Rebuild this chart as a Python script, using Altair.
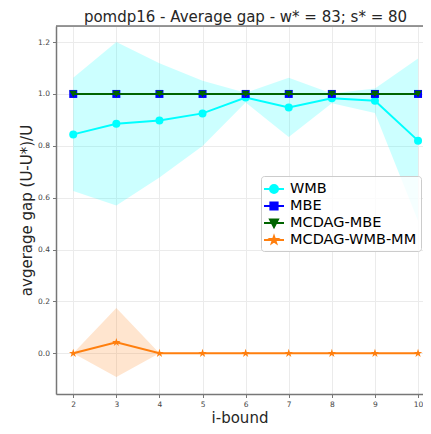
import altair as alt
import pandas as pd

# ---- data ----
I_BOUND = [2, 3, 4, 5, 6, 7, 8, 9, 10]
WMB_MEAN = [0.844, 0.885, 0.898, 0.925, 0.986, 0.948, 0.983, 0.974, 0.820]
WMB_LOW = [0.626, 0.570, 0.678, 0.799, 0.967, 0.834, 0.964, 0.927, 0.510]
WMB_HIGH = [1.062, 1.200, 1.118, 1.051, 1.005, 1.062, 1.002, 1.021, 1.137]
MBE_MEAN = [1.0, 1.0, 1.0, 1.0, 1.0, 1.0, 1.0, 1.0, 1.0]
MCDAG_MBE_MEAN = [1.0, 1.0, 1.0, 1.0, 1.0, 1.0, 1.0, 1.0, 1.0]
MM_MEAN = [0.0, 0.042, 0.0, 0.0, 0.0, 0.0, 0.0, 0.0, 0.0]
MM_LOW = [0.0, -0.091, 0.0, 0.0, 0.0, 0.0, 0.0, 0.0, 0.0]
MM_HIGH = [0.0, 0.175, 0.0, 0.0, 0.0, 0.0, 0.0, 0.0, 0.0]

SERIES = ["WMB", "MBE", "MCDAG-MBE", "MCDAG-WMB-MM"]
COLORS = ["#00ffff", "#0000ff", "#006400", "#ff7f0e"]
X_TICKS = [2, 3, 4, 5, 6, 7, 8, 9, 10]
Y_TICKS = [0.0, 0.2, 0.4, 0.6, 0.8, 1.0, 1.2]
TITLE = "pomdp16 - Average gap - w* = 83; s* = 80"
X_TITLE = "i-bound"
Y_TITLE = "avgerage gap (U-U*)/U"

df = pd.DataFrame({
    "i": I_BOUND,
    "wmb": WMB_MEAN, "wmb_lo": WMB_LOW, "wmb_hi": WMB_HIGH,
    "mbe": MBE_MEAN, "mcdag": MCDAG_MBE_MEAN,
    "mm": MM_MEAN, "mm_lo": MM_LOW, "mm_hi": MM_HIGH,
})
legend_df = pd.DataFrame({"s": SERIES, "i": [I_BOUND[0]] * 4, "v": [1.0] * 4})


def star_path(s):
    pts = [(0, -1), (0.2245, -0.309), (0.951, -0.309), (0.363, 0.118), (0.588, 0.809),
           (0, 0.382), (-0.588, 0.809), (-0.363, 0.118), (-0.951, -0.309), (-0.2245, -0.309)]
    return "M" + "L".join(f"{x*s:.3f},{y*s:.3f}" for x, y in pts) + "Z"


STUB = "M-1.25,0L1.25,0"
LEGEND_SHAPES = [
    STUB + "M0.5,0A0.5,0.5,0,1,1,-0.5,0A0.5,0.5,0,1,1,0.5,0Z",
    STUB + "M-0.45,-0.45L0.45,-0.45L0.45,0.45L-0.45,0.45Z",
    STUB + "M-0.5,-0.45L0.5,-0.45L0,0.5Z",
    STUB + star_path(0.45),
]

# layout (svg must stay within the 431x434 window minus the 8px page margin)
PAD_L, PAD_T, PAD_B = 48, 18, 32
W, H = 367, 368
X_MIN, X_MAX = 1.6, 1.6 + W / 43.1
Y_MIN, Y_MAX = -0.157, 1.262
XS = alt.Scale(domain=[X_MIN, X_MAX], nice=False, zero=False)
YS = alt.Scale(domain=[Y_MIN, Y_MAX], nice=False, zero=False)
SPINE = "#777777"

AX_COMMON = dict(
    grid=True, gridColor="#ebebeb", gridWidth=1,
    domainColor=SPINE, domainWidth=1.5,
    tickColor=SPINE, tickSize=3.5, tickWidth=1,
    labelFontSize=7.5, labelColor="#444444", labelFont="DejaVu Sans",
    titleFontSize=15, titleFont="DejaVu Sans", titleFontWeight="normal",
    titleColor="#262626",
)
XAX = alt.Axis(values=X_TICKS, format="d", labelPadding=3, title=X_TITLE,
               titleBaseline="alphabetic", titleY=28, **AX_COMMON)
YAX = alt.Axis(values=Y_TICKS, format=".1f", labelPadding=3, title=Y_TITLE,
               titleX=-30, titleY=H / 2, titleBaseline="middle", **AX_COMMON)


def xenc():
    return alt.X("i:Q", scale=XS, axis=XAX)


def yenc(field):
    return alt.Y(f"{field}:Q", scale=YS, axis=YAX)


base = alt.Chart(df)

wmb_band = base.mark_area(color=COLORS[0], opacity=0.2).encode(
    x=xenc(), y=yenc("wmb_lo"), y2="wmb_hi:Q")
mm_band = base.mark_area(color=COLORS[3], opacity=0.2).encode(
    x=xenc(), y=yenc("mm_lo"), y2="mm_hi:Q")

wmb_line = base.mark_line(color=COLORS[0], strokeWidth=2).encode(x=xenc(), y=yenc("wmb"))
wmb_pts = base.mark_point(filled=True, shape="circle", size=64, color=COLORS[0],
                          opacity=1).encode(x=xenc(), y=yenc("wmb"))
mbe_line = base.mark_line(color=COLORS[1], strokeWidth=2).encode(x=xenc(), y=yenc("mbe"))
mbe_pts = base.mark_point(filled=True, shape="square", size=64, color=COLORS[1],
                          opacity=1).encode(x=xenc(), y=yenc("mbe"))
mc_line = base.mark_line(color=COLORS[2], strokeWidth=2).encode(x=xenc(), y=yenc("mcdag"))
mc_pts = base.mark_point(filled=True, shape="triangle-down", size=56, color=COLORS[2],
                         opacity=1).encode(x=xenc(), y=yenc("mcdag"))
mm_line = base.mark_line(color=COLORS[3], strokeWidth=2).encode(x=xenc(), y=yenc("mm"))
mm_pts = base.mark_point(filled=True, shape=star_path(1.0), size=80, color=COLORS[3],
                         opacity=1).encode(x=xenc(), y=yenc("mm"))

# top spine of the axes frame, placed through the scales at the top of the y domain
top_spine = alt.Chart(pd.DataFrame({"a": [0]})).mark_rule(
    color=SPINE, strokeWidth=1.5
).encode(x=alt.datum(X_MIN, scale=XS), x2=alt.datum(X_MAX), y=alt.datum(Y_MAX, scale=YS))

LEG = alt.Legend(
    title=None, orient="none", legendX=205, legendY=150, padding=4,
    fillColor="rgba(255,255,255,0.8)", strokeColor="#cccccc", cornerRadius=3,
    labelFontSize=14.5, labelFont="DejaVu Sans", labelColor="#000000",
    symbolSize=256, symbolStrokeWidth=2, rowPadding=0, labelOffset=7,
    symbolOpacity=1,
)
legend_layer = alt.Chart(legend_df).transform_filter("false").mark_point(
    filled=True, strokeWidth=2, opacity=1
).encode(
    x=xenc(), y=yenc("v"),
    fill=alt.Fill("s:N", scale=alt.Scale(domain=SERIES, range=COLORS), legend=LEG, title=None),
    stroke=alt.Stroke("s:N", scale=alt.Scale(domain=SERIES, range=COLORS), legend=LEG, title=None),
    shape=alt.Shape("s:N", scale=alt.Scale(domain=SERIES, range=LEGEND_SHAPES), legend=LEG, title=None),
)

chart = alt.layer(
    wmb_band, mm_band, wmb_line, wmb_pts, mbe_line, mbe_pts, mc_line, mc_pts,
    mm_line, mm_pts, top_spine, legend_layer,
).properties(
    width=W, height=H,
    padding={"left": PAD_L, "top": PAD_T, "right": 0, "bottom": PAD_B},
    autosize=alt.AutoSizeParams(type="none"),
    title=alt.TitleParams(TITLE, fontSize=15, font="DejaVu Sans", fontWeight="normal",
                          color="#262626", anchor="middle", baseline="alphabetic",
                          frame="group", offset=4, dx=6, dy=16),
).configure_view(strokeWidth=0).configure(font="DejaVu Sans", background="white")

chart.save("out.html", embed_options={"renderer": "svg", "actions": False})
